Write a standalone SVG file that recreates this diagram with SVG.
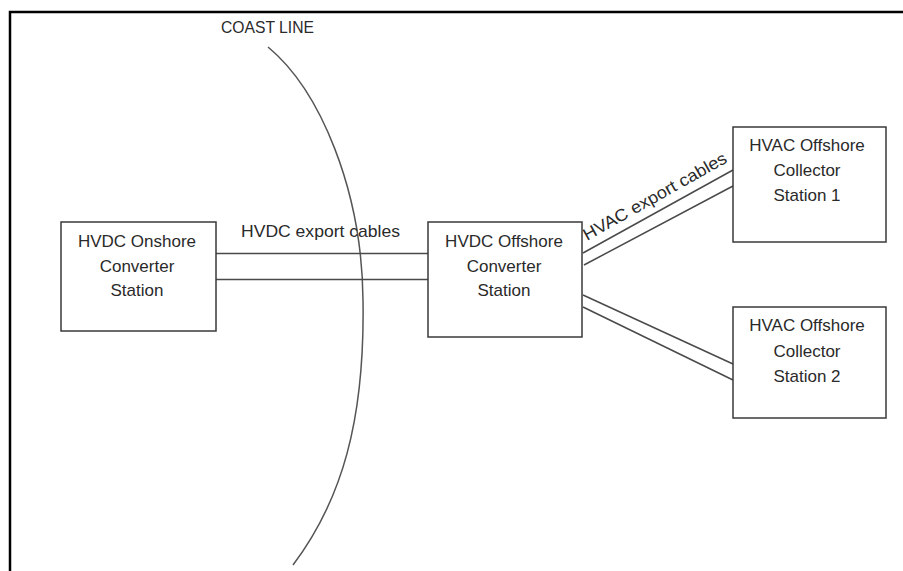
<svg xmlns="http://www.w3.org/2000/svg" width="903" height="571" viewBox="0 0 903 571">
<style>
.box{fill:#fff;stroke:#3a3a3a;stroke-width:1.5}
.cable{stroke:#4a4a4a;stroke-width:1.5;fill:none}
.lbl{font-family:"Liberation Sans",Arial,sans-serif;font-size:17px;fill:#2a2a2a;text-anchor:middle}
.cap{font-family:"Liberation Sans",Arial,sans-serif;font-size:17px;fill:#2a2a2a}
</style>
<rect x="0" y="0" width="903" height="571" fill="#fff"/>
<path d="M10,571 V12 H903" fill="none" stroke="#000" stroke-width="2.5"/>
<g id="coastline">
<path d="M268,47 C320,90 362,190 363,300 C365,420 342,500 293,565" fill="none" stroke="#555" stroke-width="1.5"/>
<text class="cap" x="221" y="33" font-size="14" textLength="93" lengthAdjust="spacingAndGlyphs">COAST LINE</text>
</g>
<g id="connectors">
<line class="cable" x1="216" y1="253.5" x2="428" y2="253.5"/>
<line class="cable" x1="216" y1="279.5" x2="428" y2="279.5"/>
<text class="cap" x="241" y="237" textLength="159" lengthAdjust="spacingAndGlyphs">HVDC export cables</text>
<line class="cable" x1="583" y1="253" x2="733" y2="170"/>
<line class="cable" x1="584" y1="265" x2="733" y2="186"/>
<text class="cap" transform="translate(587,241) rotate(-29.3)" x="0" y="0" textLength="162" lengthAdjust="spacingAndGlyphs">HVAC export cables</text>
<line class="cable" x1="583" y1="295" x2="733" y2="364"/>
<line class="cable" x1="583" y1="307" x2="733" y2="380"/>
</g>
<g id="onshore">
<rect class="box" x="61" y="222" width="155" height="109"/>
<text class="lbl" x="137" y="247">HVDC Onshore</text>
<text class="lbl" x="137" y="272">Converter</text>
<text class="lbl" x="137" y="296">Station</text>
</g>
<g id="offshore">
<rect class="box" x="428" y="222" width="154" height="115"/>
<text class="lbl" x="504" y="247">HVDC Offshore</text>
<text class="lbl" x="504" y="272">Converter</text>
<text class="lbl" x="504" y="296">Station</text>
</g>
<g id="collector1">
<rect class="box" x="733" y="127" width="153" height="115"/>
<text class="lbl" x="807" y="151">HVAC Offshore</text>
<text class="lbl" x="807" y="176">Collector</text>
<text class="lbl" x="807" y="201">Station 1</text>
</g>
<g id="collector2">
<rect class="box" x="733" y="307" width="153" height="111"/>
<text class="lbl" x="807" y="331">HVAC Offshore</text>
<text class="lbl" x="807" y="357">Collector</text>
<text class="lbl" x="807" y="382">Station 2</text>
</g>
</svg>
